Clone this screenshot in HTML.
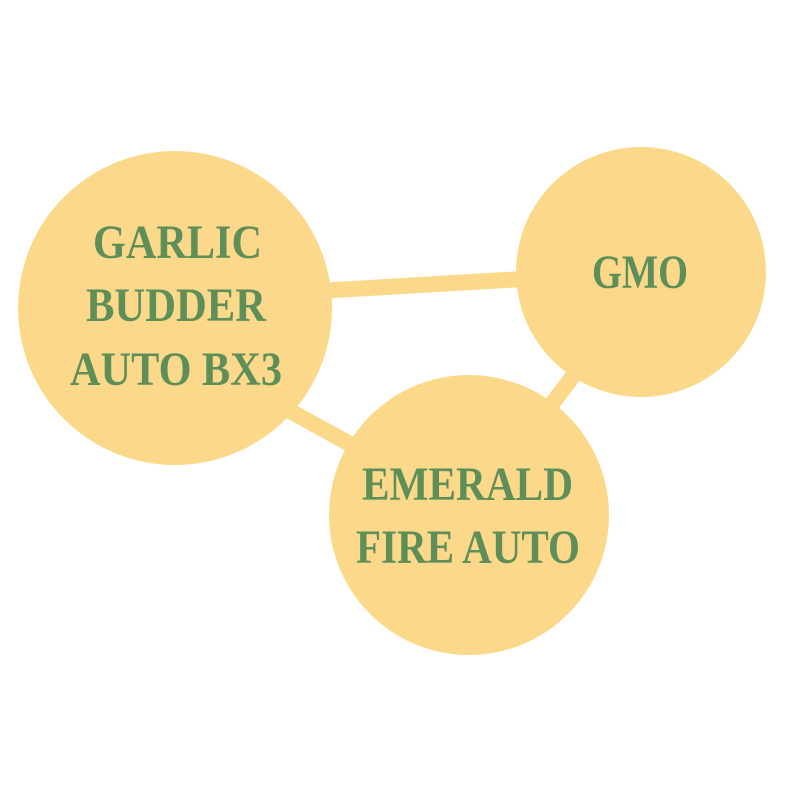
<!DOCTYPE html>
<html><head><style>html,body{margin:0;padding:0;background:#fff}</style></head>
<body>
<svg width="800" height="800" xmlns="http://www.w3.org/2000/svg">
<rect width="800" height="800" fill="#fff"/>
<g stroke="#FCD98A" stroke-width="16" stroke-linecap="butt">
<line x1="300" y1="292" x2="540" y2="278"/>
<line x1="270" y1="400" x2="370" y2="455"/>
<line x1="585" y1="360" x2="540" y2="420"/>
</g>
<g fill="#FCD98A">
<circle cx="175" cy="308" r="157"/>
<circle cx="641" cy="272" r="125"/>
<circle cx="469" cy="515" r="140"/>
</g>
<g fill="#5E8F58" font-family="Liberation Serif, serif" font-weight="bold" font-size="48" lengthAdjust="spacingAndGlyphs">
<text x="93" y="258" textLength="169" lengthAdjust="spacingAndGlyphs">GARLIC</text>
<text x="86" y="321" textLength="180" lengthAdjust="spacingAndGlyphs">BUDDER</text>
<text x="70" y="385" textLength="212" lengthAdjust="spacingAndGlyphs">AUTO BX3</text>
<text x="592" y="288" textLength="96" lengthAdjust="spacingAndGlyphs">GMO</text>
<text x="362" y="500" textLength="211" lengthAdjust="spacingAndGlyphs">EMERALD</text>
<text x="356" y="563" textLength="224" lengthAdjust="spacingAndGlyphs">FIRE AUTO</text>
</g>
</svg>
</body></html>
